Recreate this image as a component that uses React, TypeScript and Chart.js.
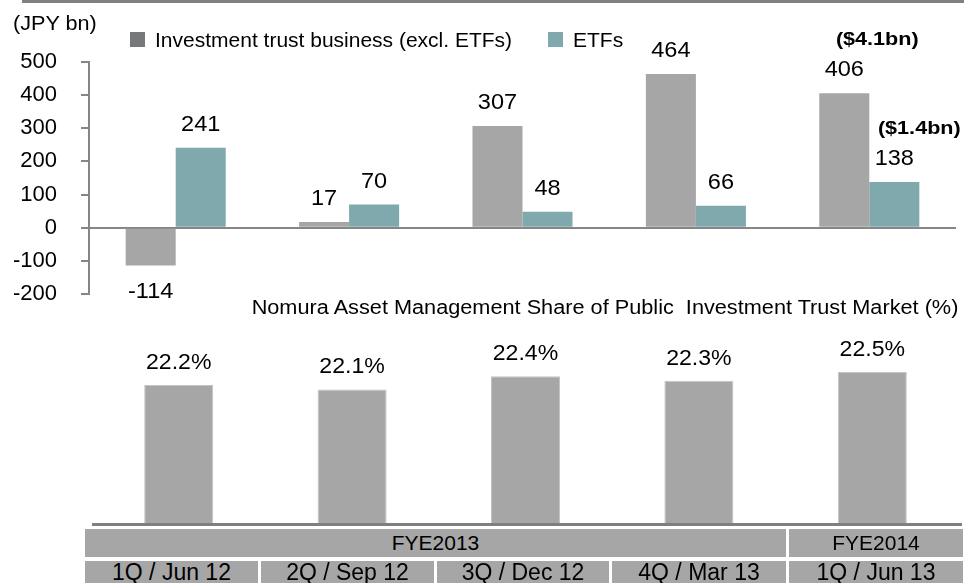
import React, { useEffect, useRef } from 'react';
import { Chart, registerables } from 'chart.js';

Chart.register(...registerables);

// ---------- data ----------
const quarterLabels = ['1Q / Jun 12', '2Q / Sep 12', '3Q / Dec 12', '4Q / Mar 13', '1Q / Jun 13'];
const fiscalYears = ['FYE2013', 'FYE2014'];
const fiscalYearQuarterCounts = [4, 1];
const investmentTrustFlows = [-114, 17, 307, 464, 406];
const etfFlows = [241, 70, 48, 66, 138];
const investmentTrustUsdNotes = ['', '', '', '', '($4.1bn)'];
const etfUsdNotes = ['', '', '', '', '($1.4bn)'];
const marketSharePct = [22.2, 22.1, 22.4, 22.3, 22.5];
const flowAxisMin = -200;
const flowAxisMax = 500;
const flowAxisStep = 100;
const seriesNames = ['Investment trust business (excl. ETFs)', 'ETFs'];
const unitLabel = '(JPY bn)';
const shareTitle = 'Nomura Asset Management Share of Public  Investment Trust Market (%)';

// ---------- style ----------
const FONT = '"Liberation Sans", Arial, Helvetica, sans-serif';
const GREY_BAR = '#A6A6A6';
const TEAL_BAR = '#7FA9AD';
const LEGEND_GREY = '#77787B';
const AXIS_GREY = '#868686';
const W = 964;
const H = 583;

function drawText(ctx: CanvasRenderingContext2D, text: string, x: number, y: number, sx: number) {
  ctx.save();
  ctx.translate(x, y);
  ctx.scale(sx, 1);
  ctx.fillText(text, 0, 0);
  ctx.restore();
}

const flowLabelsPlugin = {
  id: 'flowLabels',
  afterDatasetsDraw(chart: any) {
    const ctx = chart.ctx;
    const notes = [investmentTrustUsdNotes, etfUsdNotes];
    const noteDx = [33, 25];
    ctx.save();
    ctx.fillStyle = '#000';
    ctx.textAlign = 'center';
    ctx.textBaseline = 'alphabetic';
    chart.data.datasets.forEach((ds: any, di: number) => {
      const meta = chart.getDatasetMeta(di);
      meta.data.forEach((bar: any, i: number) => {
        const v = ds.data[i];
        const y = v >= 0 ? bar.y - 17 : bar.y + 33;
        ctx.font = `22px ${FONT}`;
        drawText(ctx, String(v), bar.x, y, 1.07);
        const note = notes[di][i];
        if (note) {
          ctx.font = `bold 18px ${FONT}`;
          drawText(ctx, note, bar.x + noteDx[di], y - 31, 1.2);
        }
      });
    });
    ctx.restore();
  },
};

const shareLabelsPlugin = {
  id: 'shareLabels',
  afterDatasetsDraw(chart: any) {
    const ctx = chart.ctx;
    ctx.save();
    ctx.fillStyle = '#000';
    ctx.textAlign = 'center';
    ctx.textBaseline = 'alphabetic';
    ctx.font = `22px ${FONT}`;
    const ds = chart.data.datasets[0];
    chart.getDatasetMeta(0).data.forEach((bar: any, i: number) => {
      drawText(ctx, `${ds.data[i].toFixed(1)}%`, bar.x, bar.y - 16, 1.05);
    });
    // baseline rule
    const y = chart.chartArea.bottom + 0.5;
    ctx.strokeStyle = '#7F7F7F';
    ctx.lineWidth = 3;
    ctx.beginPath();
    ctx.moveTo(92, y);
    ctx.lineTo(962, y);
    ctx.stroke();
    ctx.restore();
  },
};

function Text(props: { x: number; baseline: number; size: number; align?: 'left' | 'right' | 'center'; bold?: boolean; sx?: number; children: any }) {
  const { x, baseline, size, align = 'left', bold, sx = 1, children } = props;
  const style: any = {
    position: 'absolute',
    top: baseline - 0.8465 * size,
    fontFamily: FONT,
    fontSize: size,
    lineHeight: `${size}px`,
    fontWeight: bold ? 'bold' : 'normal',
    color: '#000',
    whiteSpace: 'pre',
  };
  if (align === 'left') {
    style.left = x;
    style.transformOrigin = 'left center';
    style.transform = `scaleX(${sx})`;
  } else if (align === 'right') {
    style.right = W - x;
    style.transformOrigin = 'right center';
    style.transform = `scaleX(${sx})`;
  } else {
    style.left = x;
    style.transform = `translateX(-50%) scaleX(${sx})`;
  }
  return <div style={style}>{children}</div>;
}

export default function App() {
  const topRef = useRef<HTMLCanvasElement>(null);
  const bottomRef = useRef<HTMLCanvasElement>(null);

  useEffect(() => {
    document.body.style.margin = '0';
    const top = new Chart(topRef.current as HTMLCanvasElement, {
      type: 'bar',
      data: {
        labels: quarterLabels,
        datasets: [
          { label: seriesNames[0], data: investmentTrustFlows, backgroundColor: GREY_BAR, categoryPercentage: 0.577, barPercentage: 1 },
          { label: seriesNames[1], data: etfFlows, backgroundColor: TEAL_BAR, categoryPercentage: 0.577, barPercentage: 1 },
        ],
      },
      options: {
        responsive: false,
        animation: false,
        layout: { padding: { top: 62, bottom: H - 294, left: 0, right: W - 956 } },
        plugins: { legend: { display: false }, tooltip: { enabled: false } },
        scales: {
          x: { display: false },
          y: {
            min: flowAxisMin,
            max: flowAxisMax,
            afterFit: (s: any) => { s.width = 89; },
            ticks: { stepSize: flowAxisStep, padding: 24, color: '#000', font: { family: FONT, size: 22 } },
            grid: {
              color: (c: any) => (c.tick && c.tick.value === 0 ? AXIS_GREY : 'rgba(0,0,0,0)'),
              tickColor: AXIS_GREY,
              tickLength: 8,
              lineWidth: 2,
            },
            border: { color: AXIS_GREY, width: 2 },
          },
        },
      } as any,
      plugins: [flowLabelsPlugin],
    });

    const bottom = new Chart(bottomRef.current as HTMLCanvasElement, {
      type: 'bar',
      data: {
        labels: quarterLabels,
        datasets: [
          { label: 'Share', data: marketSharePct, backgroundColor: GREY_BAR, borderColor: '#C4C4C4', borderWidth: 1, categoryPercentage: 0.398, barPercentage: 1 },
        ],
      },
      options: {
        responsive: false,
        animation: false,
        layout: { padding: { top: 359, bottom: H - 524, left: 92, right: W - 959 } },
        plugins: { legend: { display: false }, tooltip: { enabled: false } },
        scales: {
          x: { display: false },
          y: { display: false, min: 19, max: 22.8 },
        },
      } as any,
      plugins: [shareLabelsPlugin],
    });

    return () => {
      top.destroy();
      bottom.destroy();
    };
  }, []);

  const colLeft = [85, 261, 437, 612, 789];
  const colRight = [258, 434, 609, 786, 963];
  let qIdx = 0;
  const yearBoxes = fiscalYears.map((fy, i) => {
    const start = qIdx;
    const end = qIdx + fiscalYearQuarterCounts[i] - 1;
    qIdx += fiscalYearQuarterCounts[i];
    return { fy, left: colLeft[start], right: colRight[end] };
  });

  const boxStyle = (left: number, right: number, topY: number, h: number, size: number, lh: number): any => ({
    position: 'absolute',
    left,
    top: topY,
    width: right - left,
    height: h,
    background: GREY_BAR,
    color: '#000',
    fontFamily: FONT,
    fontSize: size,
    lineHeight: `${lh}px`,
    textAlign: 'center',
    whiteSpace: 'pre',
    overflow: 'hidden',
  });

  return (
    <div style={{ position: 'fixed', left: 0, top: 0, width: W, height: H, overflow: 'hidden', background: '#fff' }}>
      <canvas ref={topRef} width={W} height={H} style={{ position: 'absolute', left: 0, top: 0, width: W, height: H }} />
      <canvas ref={bottomRef} width={W} height={H} style={{ position: 'absolute', left: 0, top: 0, width: W, height: H }} />
      <div style={{ position: 'absolute', left: 22, top: 0, width: W - 22, height: 3, background: '#808080' }} />
      <Text x={13} baseline={30} size={21} sx={1.03}>{unitLabel}</Text>
      <div style={{ position: 'absolute', left: 130, top: 32, width: 15, height: 15, background: LEGEND_GREY }} />
      <Text x={155} baseline={47} size={21}>{seriesNames[0]}</Text>
      <div style={{ position: 'absolute', left: 548, top: 32, width: 15, height: 15, background: TEAL_BAR }} />
      <Text x={573} baseline={47} size={21}>{seriesNames[1]}</Text>
      <Text x={958} baseline={313.5} size={20} align="right" sx={1.085}>{shareTitle}</Text>
      {yearBoxes.map((b) => (
        <div key={b.fy} style={boxStyle(b.left, b.right, 529, 28, 21, 28)}>{b.fy}</div>
      ))}
      {quarterLabels.map((q, i) => (
        <div key={q} style={boxStyle(colLeft[i], colRight[i], 561, 26, 23, 23)}>{q}</div>
      ))}
    </div>
  );
}
